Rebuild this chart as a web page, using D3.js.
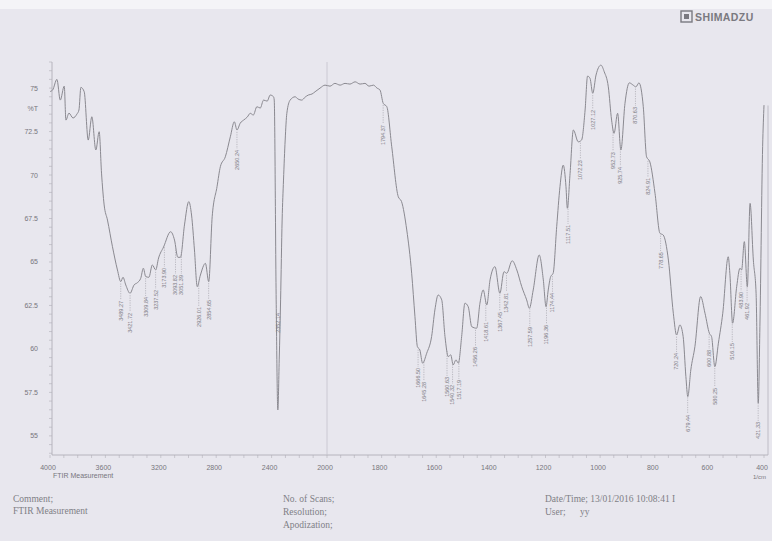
<!DOCTYPE html>
<html>
<head>
<meta charset="utf-8">
<script src="https://cdn.jsdelivr.net/npm/d3@7"></script>
<style>
  body { margin: 0; background: #e8e7ee; }
  svg { display: block; }
</style>
</head>
<body>
<div class="chart"></div>
<script>
// spectrum (wavenumber in 1/cm, transmittance in %T)
var wavenumber = [4000, 3981, 3950, 3926, 3897, 3885, 3863, 3834, 3806, 3791, 3777, 3753, 3724, 3698, 3669, 3645, 3628, 3609, 3585, 3549,
  3513, 3489, 3473, 3453, 3422, 3393, 3369, 3345, 3326, 3309, 3286, 3261, 3237, 3216, 3180, 3129, 3101, 3077, 3058, 3029,
  2998, 2978, 2957, 2937, 2914, 2878, 2854, 2829, 2794, 2770, 2734, 2698, 2669, 2650, 2626, 2602, 2576, 2554, 2532, 2506,
  2482, 2458, 2432, 2410, 2386, 2381, 2367, 2355, 2345, 2335, 2324, 2314, 2302, 2290, 2266, 2230, 2209, 2182, 2158, 2135,
  2108, 2086, 2050, 2014, 1989, 1971, 1952, 1934, 1916, 1897, 1879, 1861, 1846, 1830, 1817, 1806, 1794, 1781, 1763, 1739,
  1727, 1708, 1690, 1678, 1669, 1660, 1650, 1635, 1617, 1605, 1593, 1580, 1568, 1556, 1547, 1538, 1528, 1519, 1507, 1495,
  1483, 1470, 1452, 1440, 1428, 1415, 1403, 1385, 1367, 1352, 1342, 1322, 1305, 1287, 1269, 1259, 1245, 1223, 1208, 1198,
  1190, 1181, 1172, 1159, 1147, 1135, 1125, 1120, 1110, 1098, 1080, 1068, 1055, 1046, 1037, 1027, 1015, 997, 985, 970,
  958, 949, 936, 924, 909, 893, 879, 869, 858, 842, 830, 818, 799, 781, 769, 750, 732, 720, 708, 696,
  686, 679, 668, 653, 632, 616, 600, 592, 580, 567, 551, 531, 525, 515, 500, 488, 482, 472, 461, 451,
  439, 429, 421, 415, 405, 400];
var transmittance = [74.80, 74.89, 75.50, 74.31, 75.11, 73.16, 73.56, 73.28, 73.50, 73.74, 75.04, 74.79, 72.01, 73.35, 71.44, 72.49, 70.11, 68.28, 67.41, 65.88,
  64.54, 63.87, 64.12, 63.68, 63.20, 63.68, 63.81, 64.06, 64.64, 64.16, 64.12, 64.83, 64.54, 65.23, 65.86, 66.74, 66.26, 65.27, 65.27, 67.13,
  68.47, 67.70, 65.69, 63.58, 64.25, 64.92, 63.87, 67.60, 69.33, 70.48, 71.05, 72.20, 73.06, 72.59, 72.99, 73.16, 73.33, 73.55, 73.45, 73.93,
  73.85, 74.31, 74.25, 74.60, 74.50, 74.31, 62.82, 56.49, 59.37, 62.82, 67.41, 69.71, 72.01, 73.55, 74.31, 74.50, 74.37, 74.31, 74.48, 74.60,
  74.66, 74.79, 75.00, 75.17, 75.11, 75.27, 75.17, 75.27, 75.23, 75.36, 75.23, 75.27, 75.11, 75.17, 75.00, 74.89, 74.12, 73.93, 71.63, 68.75,
  68.47, 66.84, 64.35, 61.86, 60.13, 59.94, 59.18, 59.75, 60.71, 62.24, 63.10, 62.82, 60.71, 59.56, 59.66, 59.08, 59.37, 59.18, 60.71, 62.63,
  62.43, 61.28, 61.19, 62.63, 63.39, 62.53, 63.97, 64.73, 63.20, 64.44, 64.35, 65.07, 64.54, 63.58, 62.82, 62.34, 63.39, 65.40, 63.97, 62.43,
  63.39, 64.16, 64.35, 67.03, 69.33, 70.57, 69.33, 68.09, 70.10, 72.59, 71.91, 72.01, 73.74, 75.69, 75.56, 74.70, 75.75, 76.32, 75.94, 75.07,
  73.16, 72.40, 73.55, 71.44, 74.12, 75.30, 75.17, 75.07, 75.30, 73.93, 71.05, 70.76, 68.95, 66.65, 66.55, 65.11, 62.05, 60.80, 61.38, 60.71,
  58.41, 57.26, 58.79, 60.13, 63.01, 62.05, 60.90, 60.71, 58.98, 60.33, 62.05, 65.30, 64.35, 61.48, 63.58, 64.64, 64.54, 66.17, 63.58, 68.37,
  65.11, 63.20, 56.88, 61.28, 71.63, 74.02];

// peak picks: wavenumber and the %T where the printed label starts
var peakWavenumber = [3489.27, 3421.72, 3309.84, 3237.52, 3173.90, 3093.82, 3051.39, 2926.01, 2854.65, 2650.24,
  2352.14, 1794.37, 1666.50, 1645.28, 1560.63, 1540.32, 1517.19, 1456.26, 1418.61, 1367.45,
  1342.81, 1257.59, 1196.36, 1174.44, 1117.51, 1072.23, 1027.12, 952.73, 925.74, 870.63,
  824.91, 778.65, 720.24, 679.44, 600.88, 580.25, 516.15, 483.90, 461.92, 421.33];
var peakLabelT = [62.76, 62.07, 62.99, 63.39, 64.66, 64.25, 64.25, 62.41, 62.82, 71.44,
  62.07, 72.87, 58.91, 58.10, 58.39, 57.93, 58.22, 60.11, 61.55, 62.13,
  63.22, 61.26, 61.38, 63.22, 67.13, 70.86, 73.74, 71.32, 70.46, 73.91,
  69.83, 65.57, 59.77, 56.21, 59.94, 57.76, 60.34, 63.28, 62.64, 55.80];

var yTicks = [55, 57.5, 60, 62.5, 65, 67.5, 70, 72.5, 75];
var xTicks = [4000, 3600, 3200, 2800, 2400, 2000, 1800, 1600, 1400, 1200, 1000, 800, 600, 400];

var w = 772, h = 541;
var ink = "#8a8990", textInk = "#77767d";

// Shimadzu prints 4000-2000 at half the scale of 2000-400
var x = d3.scaleLinear().domain([4000, 2000, 400]).range([50, 327, 764]);
var y = d3.scaleLinear().domain([53.9, 76.5]).range([455, 62]);
var curveAt = d3.scaleLinear().domain(wavenumber).range(transmittance);

var svg = d3.select(".chart").append("svg")
    .attr("width", w).attr("height", h)
    .style("font-family", "'Liberation Sans', Arial, sans-serif");

svg.append("rect").attr("width", w).attr("height", h).attr("fill", "#e8e7ee");
svg.append("rect").attr("width", w).attr("height", 9).attr("fill", "#f4f4f7");

// frame lines
svg.append("line").attr("x1", 52).attr("x2", 52).attr("y1", 62).attr("y2", 455)
    .attr("stroke", "#a9a8b0").attr("stroke-width", 0.8);
svg.append("line").attr("x1", 52).attr("x2", 768).attr("y1", 455).attr("y2", 455)
    .attr("stroke", "#a9a8b0").attr("stroke-width", 0.8);
svg.append("line").attr("x1", 768).attr("x2", 768).attr("y1", y(74)).attr("y2", 455)
    .attr("stroke", "#b4b3bb").attr("stroke-width", 0.8);
svg.append("line").attr("x1", x(2000)).attr("x2", x(2000)).attr("y1", 62).attr("y2", 455)
    .attr("stroke", "#c4c3cb").attr("stroke-width", 0.8);

// y ticks: major at labels, minor every 0.5
var yMinor = d3.range(54, 76.51, 0.5);
svg.selectAll(".ym").data(yMinor).enter().append("line")
    .attr("x1", 49).attr("x2", 52)
    .attr("y1", function(d){ return y(d); }).attr("y2", function(d){ return y(d); })
    .attr("stroke", "#b0afb7").attr("stroke-width", 0.6);
svg.selectAll(".yl").data(yTicks).enter().append("text")
    .attr("x", 38).attr("y", function(d){ return y(d) + 2.5; })
    .attr("text-anchor", "end").attr("font-size", 7).attr("fill", textInk)
    .text(function(d){ return d; });
svg.append("text").attr("x", 38).attr("y", y(73.85) + 2.5).attr("text-anchor", "end")
    .attr("font-size", 7).attr("fill", textInk).text("%T");

// x ticks: minor every 100 above 2000, every 50 below
var xMinor = d3.range(4000, 2000, -100).concat(d3.range(2000, 399, -50));
svg.selectAll(".xm").data(xMinor).enter().append("line")
    .attr("x1", function(d){ return x(d); }).attr("x2", function(d){ return x(d); })
    .attr("y1", 455).attr("y2", 458)
    .attr("stroke", "#b0afb7").attr("stroke-width", 0.6);
svg.selectAll(".xl").data(xTicks).enter().append("text")
    .attr("x", function(d){ return x(d) - 2; }).attr("y", 470)
    .attr("text-anchor", "middle").attr("font-size", 7).attr("fill", textInk)
    .text(function(d){ return d; });
svg.append("text").attr("x", 53).attr("y", 478).attr("font-size", 7).attr("fill", textInk)
    .text("FTIR Measurement");
svg.append("text").attr("x", 753).attr("y", 479).attr("font-size", 6).attr("fill", textInk)
    .text("1/cm");

// spectrum
var line = d3.line()
    .x(function(d, i){ return x(wavenumber[i]); })
    .y(function(d){ return y(d); })
    .curve(d3.curveMonotoneX);
svg.append("path").datum(transmittance)
    .attr("d", line)
    .attr("fill", "none").attr("stroke", ink).attr("stroke-width", 1);

// peak labels with dashed leaders
var peaks = svg.selectAll(".peak").data(peakWavenumber).enter().append("g");
peaks.append("line")
    .attr("x1", function(d){ return x(d); }).attr("x2", function(d){ return x(d); })
    .attr("y1", function(d){ return y(curveAt(d)) + 2; })
    .attr("y2", function(d, i){ return Math.max(y(peakLabelT[i]) - 1, y(curveAt(d)) + 2); })
    .attr("stroke", "#9c9ba3").attr("stroke-width", 0.6).attr("stroke-dasharray", "1.2,1.2");
peaks.append("text")
    .attr("transform", function(d, i){ return "translate(" + x(d) + "," + y(peakLabelT[i]) + ") rotate(-90)"; })
    .attr("text-anchor", "end").attr("dy", "0.35em")
    .attr("font-size", 5.5).attr("fill", "#7d7c84")
    .text(function(d){ return d.toFixed(2); });

// logo
var logo = svg.append("g").attr("transform", "translate(681,11)");
logo.append("rect").attr("width", 11).attr("height", 11).attr("fill", "none")
    .attr("stroke", "#7a7980").attr("stroke-width", 1.4);
logo.append("rect").attr("x", 3).attr("y", 3).attr("width", 5).attr("height", 5).attr("fill", "#7a7980");
svg.append("text").attr("x", 695).attr("y", 21).attr("font-size", 10.5).attr("font-weight", "bold")
    .attr("fill", "#7a7980").attr("letter-spacing", 0.4).text("SHIMADZU");

// footer
var foot = svg.append("g").attr("font-family", "'Liberation Serif', 'Times New Roman', serif")
    .attr("font-size", 9.5).attr("fill", "#807f86");
foot.append("text").attr("x", 13).attr("y", 502).text("Comment;");
foot.append("text").attr("x", 13).attr("y", 514).text("FTIR Measurement");
foot.append("text").attr("x", 283).attr("y", 502).text("No. of Scans;");
foot.append("text").attr("x", 283).attr("y", 515).text("Resolution;");
foot.append("text").attr("x", 283).attr("y", 528).text("Apodization;");
foot.append("text").attr("x", 545).attr("y", 502).text("Date/Time; 13/01/2016 10:08:41 I");
foot.append("text").attr("x", 545).attr("y", 515).text("User;");
foot.append("text").attr("x", 580).attr("y", 515).text("yy");
</script>
</body>
</html>
